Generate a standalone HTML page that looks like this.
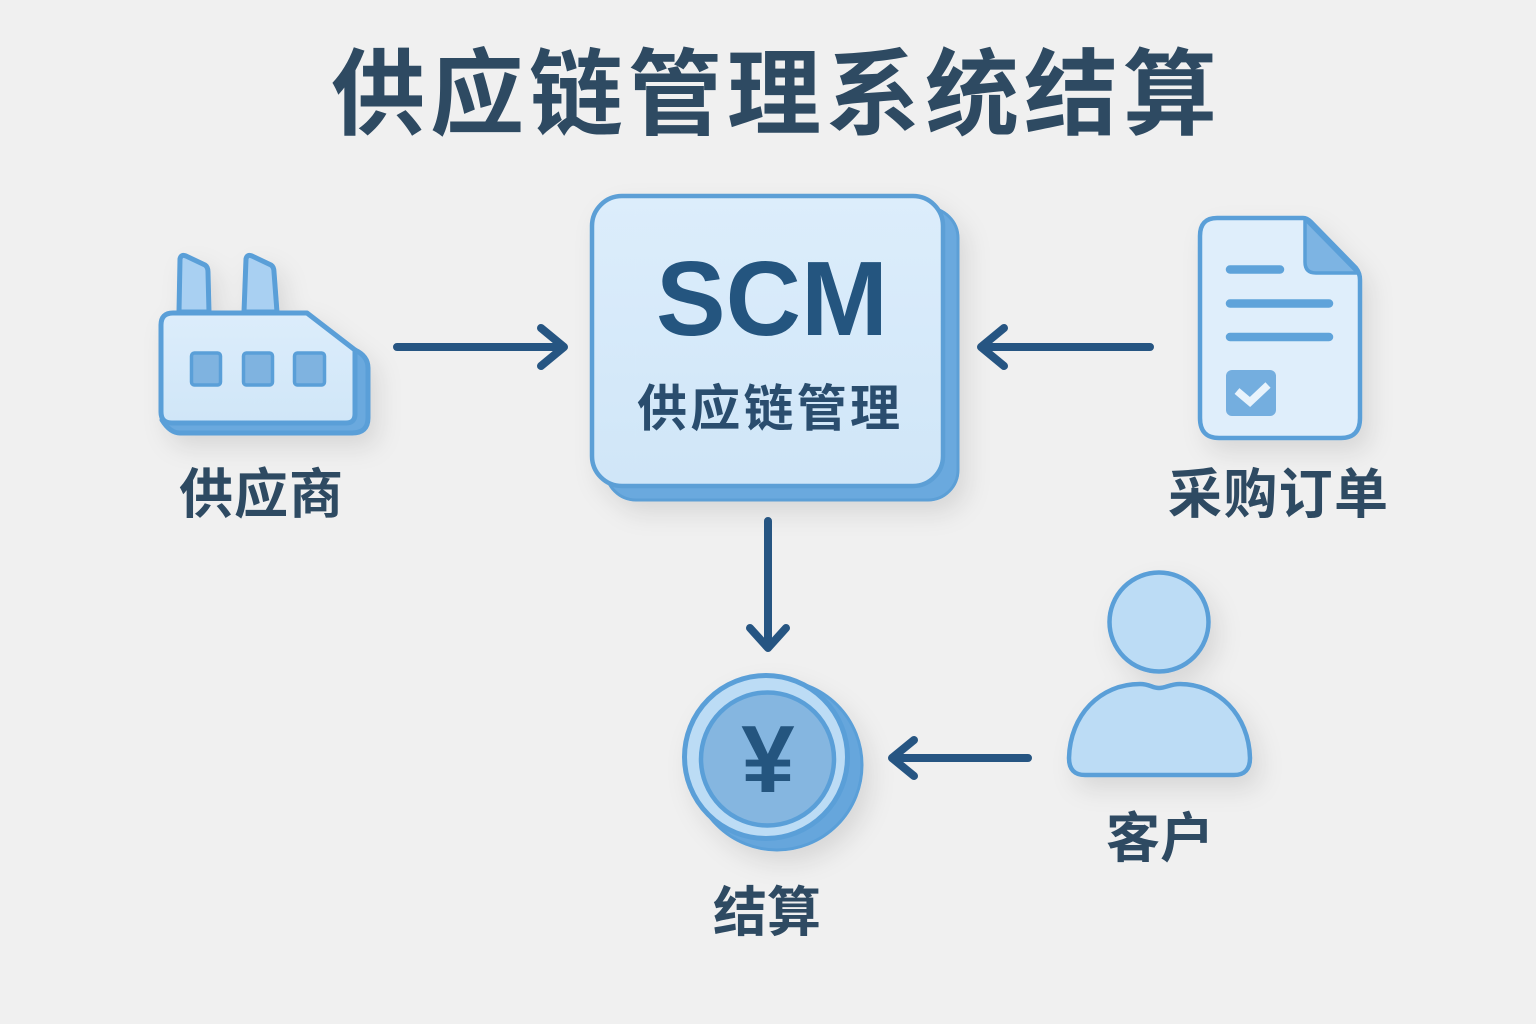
<!DOCTYPE html>
<html lang="zh"><head><meta charset="utf-8"><title>供应链管理系统结算</title>
<style>
html,body{margin:0;padding:0;background:#f0f0f0;width:1536px;height:1024px;overflow:hidden}
svg{display:block}
.cjk{font-family:"Liberation Sans","Noto Sans CJK SC",sans-serif;font-weight:700}
.lat{font-family:"Liberation Sans",sans-serif;font-weight:700}
</style></head><body>
<svg width="1536" height="1024" viewBox="0 0 1536 1024" xmlns="http://www.w3.org/2000/svg">
<defs>
<linearGradient id="g1" x1="0" y1="0" x2="0" y2="1"><stop offset="0" stop-color="#dcedfb"/><stop offset="1" stop-color="#d0e6f8"/></linearGradient>
<filter id="sh" x="-25%" y="-25%" width="160%" height="160%"><feDropShadow dx="8" dy="12" stdDeviation="12" flood-color="#000" flood-opacity="0.10"/></filter>
</defs>
<rect width="1536" height="1024" fill="#f0f0f0"/>

<text class="cjk" x="331" y="127" font-size="94" fill="#2e4a62" textLength="886">供应链管理系统结算</text>

<!-- SCM -->
<g filter="url(#sh)">
<rect x="606" y="208" width="352" height="292" rx="30" fill="#6aa9de" stroke="#5b9fd6" stroke-width="3"/>
<rect x="592" y="196" width="351" height="290" rx="30" fill="url(#g1)" stroke="#5b9fd6" stroke-width="4.500"/>
</g>
<text class="lat" x="656" y="335" font-size="106" fill="#24557f" textLength="232" lengthAdjust="spacingAndGlyphs">SCM</text>
<text class="cjk" x="637" y="426" font-size="50" fill="#2a4d6e" textLength="263">供应链管理</text>

<!-- Factory -->
<g filter="url(#sh)" stroke="#5a9fd8" stroke-width="5" stroke-linejoin="round">
<path d="M179 312 L180 259 Q181 254 186 256 L205 265 Q208 267 208 272 L209 312Z" fill="#a9d0f2"/>
<path d="M244 312 L246 259 Q247 254 252 256 L271 265 Q274 267 274 272 L277 312Z" fill="#a9d0f2"/>
<path d="M355 350 Q368 356 368 368 L368 418 Q368 433 352 433 L180 433 Q170 433 162 420Z" fill="#6aa9de"/>
<path d="M173 313 L307 313 L355 350 L355 414 Q355 423 346 423 L172 423 Q161 423 161 412 L161 325 Q161 313 173 313Z" fill="url(#g1)"/>
</g>
<g fill="#7fb3e0" stroke="#5a9fd8" stroke-width="3.500">
<rect x="191.500" y="353" width="29" height="32" rx="3"/>
<rect x="243.500" y="353" width="29" height="32" rx="3"/>
<rect x="294.500" y="353" width="30" height="32" rx="3"/>
</g>
<text class="cjk" x="179" y="513" font-size="54" fill="#2e4a62" textLength="164">供应商</text>

<!-- Document -->
<g filter="url(#sh)">
<path d="M1217 218 L1303 218 Q1307 218 1311 222 L1356 268 Q1360 273 1360 280 L1360 418 Q1360 438 1341 438 L1219 438 Q1200 438 1200 418 L1200 236 Q1200 218 1217 218Z" fill="#dfeefb" stroke="#5a9fd8" stroke-width="4.500"/>
</g>
<path d="M1305 219 L1358 273 L1316 273 Q1305 273 1305 262Z" fill="#7db4e3" stroke="#5a9fd8" stroke-width="3.500" stroke-linejoin="round"/>
<g stroke="#5fa3da" stroke-linecap="round" stroke-width="8.500">
<path d="M1230 269.500H1280M1230 303.500H1329M1230 337H1329"/>
</g>
<rect x="1226" y="370" width="50" height="46" rx="6" fill="#74aedf"/>
<path d="M1237 391 L1250 402 L1268 385" fill="none" stroke="#e8f3fc" stroke-width="7.500"/>
<text class="cjk" x="1168" y="513" font-size="54" fill="#2e4a62" textLength="220">采购订单</text>

<!-- Coin -->
<g filter="url(#sh)">
<circle cx="777" cy="765" r="85" fill="#66a6dc" stroke="#5a9fd8" stroke-width="3"/>
<circle cx="766" cy="757" r="81.500" fill="#bcdcf5" stroke="#5a9fd8" stroke-width="5"/>
</g>
<circle cx="767.500" cy="759" r="66.500" fill="#85b6e0" stroke="#5a9fd8" stroke-width="4.500"/>
<text class="lat" x="768" y="792" text-anchor="middle" font-size="96" fill="#24557f">¥</text>
<text class="cjk" x="713" y="931" font-size="54" fill="#2e4a62" textLength="108">结算</text>

<!-- Person -->
<g filter="url(#sh)" fill="#bcdcf5" stroke="#5a9fd8" stroke-width="4.500">
<circle cx="1159" cy="622" r="49.500"/>
<path d="M1085 775 Q1069 775 1069 758 C1070 715 1100 684 1140 684 C1150 684 1152 688 1159 688 C1166 688 1170 684 1180 684 C1218 684 1249 715 1250 758 Q1250 775 1234 775Z"/>
</g>
<text class="cjk" x="1106" y="857" font-size="54" fill="#2e4a62" textLength="108">客户</text>

<!-- Arrows -->
<g fill="none" stroke="#265582" stroke-width="8" stroke-linecap="round" stroke-linejoin="round">
<path d="M397 347H562M541 328L564 347L541 366"/>
<path d="M1150 347H983M1004 328L981 347L1004 366"/>
<path d="M768 521V646M750 628L768 648L786 628"/>
<path d="M1028 758H895M914 740L892 758L914 776"/>
</g>
</svg>
</body></html>
